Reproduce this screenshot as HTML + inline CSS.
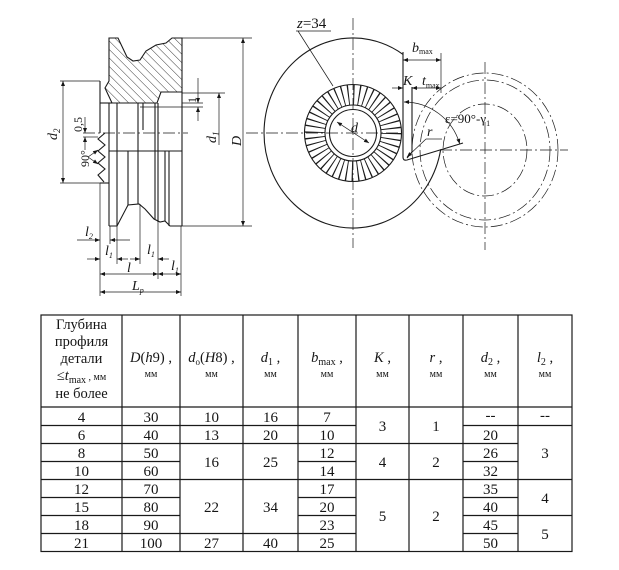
<!DOCTYPE html>
<html><head><meta charset="utf-8">
<style>
html,body{margin:0;padding:0;background:#fff;}
svg{display:block;}
text{font-family:"Liberation Serif","DejaVu Serif",serif;fill:#151515;}
.i{font-style:italic;}
</style></head><body>
<svg width="619" height="570" viewBox="0 0 619 570" xmlns="http://www.w3.org/2000/svg">
<defs>
<marker id="ar" viewBox="0 0 10 10" refX="10" refY="5" markerWidth="7" markerHeight="5" orient="auto-start-reverse" markerUnits="userSpaceOnUse">
<path d="M0,1 L10,5 L0,9 z" fill="#151515"/>
</marker>
<pattern id="hatch" patternUnits="userSpaceOnUse" width="6" height="6" patternTransform="rotate(-45)">
<line x1="0" y1="0" x2="0" y2="6" stroke="#222" stroke-width="0.9"/>
</pattern>
</defs>
<rect width="619" height="570" fill="#fff"/>

<!-- ============ LEFT DRAWING ============ -->
<g stroke="#1a1a1a" stroke-width="1.1" fill="none">
<path d="M109,38 L118,38 L127,57 L133,61 L140,60 L146,51 L156,45 L166,43 L172,38 L182,38 L182,92 L161,92 L157,103 L112,103 L105,88 L109,81 Z" fill="url(#hatch)"/>
<path d="M100,81 V133"/>
<path d="M100,103 H112"/>
<path d="M105,133 L98,139 L105,145 L98,151 L105,157 L98,163 L105,169 L98,175 L104,182"/>
<path d="M100,183 H109"/>
<path d="M109,103 V226"/>
<path d="M117,103 V226"/>
<path d="M128,151 V205"/>
<path d="M138,103 V204"/>
<path d="M143,103 V130"/>
<path d="M155,103 V219"/>
<path d="M158,103 V222"/>
<path d="M165,151 V221"/>
<path d="M169,151 V226"/>
<path d="M182,92 V226"/>
<path d="M109,151 H182"/>
<path d="M109,226 L117,226 L128,205 L139,204 L145,209 L154,219 L160,222 L165,221 L170,226 L182,226"/>
</g>
<g stroke="#1a1a1a" stroke-width="0.7" fill="none">
<path d="M83,133 H188" stroke-dasharray="12 3 2 3"/>
<path d="M60,81 H100"/>
<path d="M60,183 H100"/>
<path d="M63,81 V183" marker-start="url(#ar)" marker-end="url(#ar)"/>
<path d="M182,38 H252"/>
<path d="M182,226 H252"/>
<path d="M243,38 V226" marker-start="url(#ar)" marker-end="url(#ar)"/>
<path d="M182,93 H225"/>
<path d="M219,93 V145" marker-start="url(#ar)"/>
<path d="M182,103 H203"/>
<path d="M140,107 H203"/>
<path d="M198,78 V103" marker-end="url(#ar)"/>
<path d="M198,121 V107" marker-end="url(#ar)"/>
<path d="M83,137 H98"/>
<path d="M85,117 V133" marker-end="url(#ar)"/>
<path d="M85,150 V137" marker-end="url(#ar)"/>
<path d="M88,157 L98,150" marker-end="url(#ar)"/>
<path d="M88,157 L98,164" marker-end="url(#ar)"/>
<path d="M100,183 V296"/>
<path d="M110,226 V244"/>
<path d="M117,226 V264"/>
<path d="M140,204 V264"/>
<path d="M158,222 V279"/>
<path d="M181,226 V296"/>
<path d="M77,240 H100" marker-end="url(#ar)"/>
<path d="M130,240 H110" marker-end="url(#ar)"/>
<path d="M87,259 H100" marker-end="url(#ar)"/>
<path d="M128,259 H117" marker-end="url(#ar)"/>
<path d="M130,259 H140" marker-end="url(#ar)"/>
<path d="M169,259 H158" marker-end="url(#ar)"/>
<path d="M100,274 H158" marker-start="url(#ar)" marker-end="url(#ar)"/>
<path d="M158,274 H181" marker-start="url(#ar)" marker-end="url(#ar)"/>
<path d="M100,292 H181" marker-start="url(#ar)" marker-end="url(#ar)"/>
</g>
<g font-size="14">
<text class="i" transform="translate(57,140) rotate(-90)">d<tspan font-size="9" dy="3">2</tspan></text>
<text class="i" transform="translate(216,143) rotate(-90)">d<tspan font-size="9" dy="3">1</tspan></text>
<text class="i" transform="translate(241,146) rotate(-90)">D</text>
<text transform="translate(196,103) rotate(-90)" font-size="12">1</text>
<text transform="translate(82,132) rotate(-90)" font-size="12">0,5</text>
<text transform="translate(89,167) rotate(-90)" font-size="12">90°</text>
<text class="i" x="85" y="236">l<tspan font-size="8" dy="3">2</tspan></text>
<text class="i" x="105" y="255">l<tspan font-size="8" dy="3">1</tspan></text>
<text class="i" x="147" y="254">l<tspan font-size="8" dy="3">1</tspan></text>
<text class="i" x="127" y="272">l</text>
<text class="i" x="171" y="270">l<tspan font-size="8" dy="3">1</tspan></text>
<text class="i" x="132" y="290">L<tspan font-size="8" dy="3">p</tspan></text>
</g>

<!-- ============ RIGHT DRAWING ============ -->
<g stroke="#1a1a1a" stroke-width="0.7" fill="none" stroke-dasharray="12 3 2 3">
<ellipse cx="485" cy="150" rx="73" ry="77"/>
<ellipse cx="485" cy="150" rx="65" ry="70"/>
<ellipse cx="485" cy="150" rx="42" ry="46"/>
<path d="M353,18 V248"/>
<path d="M246,133 H402"/>
<path d="M440,150 H568"/>
<path d="M485,62 V250"/>
</g>
<g stroke="#1a1a1a" stroke-width="1.1" fill="none">
<path d="M403,54.4 A89,95 0 1 0 440.7,149.4"/>
<path d="M403,52 V157 Q403,161 407,160 L463,143"/>
<path d="M412,87 V152 L407,158"/>
<circle cx="353" cy="133" r="48.5"/>
<circle cx="353" cy="133" r="28"/>
<circle cx="353" cy="133" r="23.5"/>
<circle cx="353" cy="133" r="38.2" stroke-width="20" stroke-dasharray="1.1 4.355"/>
</g>
<g stroke="#1a1a1a" stroke-width="0.7" fill="none">
<path d="M337,122 L369,143" marker-start="url(#ar)" marker-end="url(#ar)"/>
<path d="M296,31 H331"/>
<path d="M298,31 L333,86"/>
<path d="M441,53 V93"/>
<path d="M403,60 H441" marker-start="url(#ar)" marker-end="url(#ar)"/>
<path d="M392,88 H403" marker-end="url(#ar)"/>
<path d="M412,88 H441" marker-start="url(#ar)" marker-end="url(#ar)"/>
<path d="M426,139 L407,157" marker-end="url(#ar)"/>
<path d="M426,139 H442"/>
<path d="M404,102 A58,58 0 0 1 459.7,143.9" marker-start="url(#ar)" marker-end="url(#ar)"/>
</g>
<g font-size="14">
<text x="297" y="28" font-size="15"><tspan class="i">z</tspan>=34</text>
<text class="i" x="351" y="132">d</text>
<text class="i" x="412" y="52">b<tspan font-size="8" dy="2" font-style="normal">max</tspan></text>
<text class="i" x="403" y="85">K</text>
<text class="i" x="422" y="85">t<tspan font-size="8" dy="3" font-style="normal">max</tspan></text>
<text class="i" x="427" y="136">r</text>
<text x="445" y="123" font-size="13">ε=90°-γ<tspan font-size="8" dy="3">1</tspan></text>
</g>

<!-- ============ TABLE ============ -->
<g stroke="#1a1a1a" stroke-width="1.2" fill="none">
<rect x="41" y="315" width="531" height="236.5"/>
<path d="M122,315 V551.5 M180,315 V551.5 M243,315 V551.5 M298,315 V551.5 M356,315 V551.5 M409,315 V551.5 M463,315 V551.5 M518,315 V551.5"/>
<path d="M41,407 H572"/>
<path d="M41,425.5 H356 M463,425.5 H572"/>
<path d="M41,443.5 H518"/>
<path d="M41,461.5 H180 M298,461.5 H356 M463,461.5 H518"/>
<path d="M41,479.5 H572"/>
<path d="M41,497.5 H180 M298,497.5 H356 M463,497.5 H518"/>
<path d="M41,515.5 H180 M298,515.5 H356 M463,515.5 H572"/>
<path d="M41,533.5 H356 M463,533.5 H518"/>
</g>
<g font-size="14.5" text-anchor="middle">
<text x="81.5" y="329">Глубина</text>
<text x="81.5" y="346">профиля</text>
<text x="81.5" y="363">детали</text>
<text x="81.5" y="380">≤<tspan class="i">t</tspan><tspan font-size="10" dy="3">max</tspan><tspan font-size="10" dy="-3"> , мм</tspan></text>
<text x="81.5" y="398">не более</text>
<text x="151" y="362"><tspan class="i">D</tspan>(<tspan class="i">h</tspan>9) ,</text>
<text x="211.5" y="362"><tspan class="i">d</tspan><tspan font-size="9" dy="3">о</tspan><tspan dy="-3">(</tspan><tspan class="i">H</tspan>8) ,</text>
<text x="270.5" y="362"><tspan class="i">d</tspan><tspan font-size="10" dy="3">1</tspan><tspan dy="-3"> ,</tspan></text>
<text x="327" y="362"><tspan class="i">b</tspan><tspan font-size="10" dy="3">max</tspan><tspan dy="-3"> ,</tspan></text>
<text x="382.5" y="362"><tspan class="i">K</tspan> ,</text>
<text x="436" y="362"><tspan class="i">r</tspan> ,</text>
<text x="490.5" y="362"><tspan class="i">d</tspan><tspan font-size="10" dy="3">2</tspan><tspan dy="-3"> ,</tspan></text>
<text x="545" y="362"><tspan class="i">l</tspan><tspan font-size="10" dy="3">2</tspan><tspan dy="-3"> ,</tspan></text>
</g>
<g font-size="10" text-anchor="middle">
<text x="151" y="377">мм</text>
<text x="211.5" y="377">мм</text>
<text x="270.5" y="377">мм</text>
<text x="327" y="377">мм</text>
<text x="382.5" y="377">мм</text>
<text x="436" y="377">мм</text>
<text x="490.5" y="377">мм</text>
<text x="545" y="377">мм</text>
</g>
<g font-size="15" text-anchor="middle">
<text x="81.5" y="422">4</text>
<text x="81.5" y="440">6</text>
<text x="81.5" y="458">8</text>
<text x="81.5" y="476">10</text>
<text x="81.5" y="494">12</text>
<text x="81.5" y="512">15</text>
<text x="81.5" y="530">18</text>
<text x="81.5" y="548">21</text>
<text x="151" y="422">30</text>
<text x="151" y="440">40</text>
<text x="151" y="458">50</text>
<text x="151" y="476">60</text>
<text x="151" y="494">70</text>
<text x="151" y="512">80</text>
<text x="151" y="530">90</text>
<text x="151" y="548">100</text>
<text x="211.5" y="422">10</text>
<text x="211.5" y="440">13</text>
<text x="211.5" y="467">16</text>
<text x="211.5" y="512">22</text>
<text x="211.5" y="548">27</text>
<text x="270.5" y="422">16</text>
<text x="270.5" y="440">20</text>
<text x="270.5" y="467">25</text>
<text x="270.5" y="512">34</text>
<text x="270.5" y="548">40</text>
<text x="327" y="422">7</text>
<text x="327" y="440">10</text>
<text x="327" y="458">12</text>
<text x="327" y="476">14</text>
<text x="327" y="494">17</text>
<text x="327" y="512">20</text>
<text x="327" y="530">23</text>
<text x="327" y="548">25</text>
<text x="382.5" y="431">3</text>
<text x="382.5" y="467">4</text>
<text x="382.5" y="521">5</text>
<text x="436" y="431">1</text>
<text x="436" y="467">2</text>
<text x="436" y="521">2</text>
<text x="490.5" y="420">--</text>
<text x="490.5" y="440">20</text>
<text x="490.5" y="458">26</text>
<text x="490.5" y="476">32</text>
<text x="490.5" y="494">35</text>
<text x="490.5" y="512">40</text>
<text x="490.5" y="530">45</text>
<text x="490.5" y="548">50</text>
<text x="545" y="420">--</text>
<text x="545" y="458">3</text>
<text x="545" y="503">4</text>
<text x="545" y="539">5</text>
</g>
</svg>
</body></html>
